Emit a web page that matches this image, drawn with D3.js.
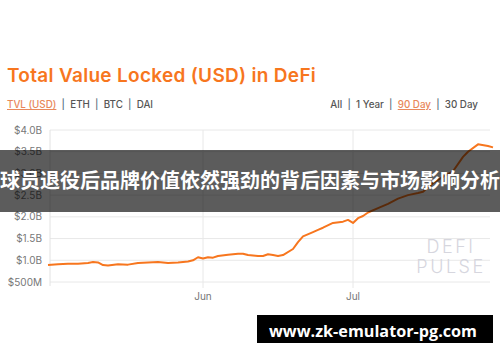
<!DOCTYPE html>
<html><head><meta charset="utf-8">
<script src="https://cdn.jsdelivr.net/npm/d3@7"></script>
<style>body{margin:0;background:#fff}svg{display:block}</style>
</head><body>
<svg id="c" width="500" height="362"></svg>
<script>
const dates = ["2020-05-01","2020-05-03","2020-05-05","2020-05-07","2020-05-09","2020-05-10","2020-05-11","2020-05-12","2020-05-13","2020-05-15","2020-05-17","2020-05-19","2020-05-21","2020-05-23","2020-05-25","2020-05-27","2020-05-29","2020-05-30","2020-05-31","2020-06-01","2020-06-02","2020-06-03","2020-06-04","2020-06-06","2020-06-08","2020-06-09","2020-06-10","2020-06-12","2020-06-13","2020-06-14","2020-06-15","2020-06-16","2020-06-17","2020-06-19","2020-06-20","2020-06-21","2020-06-23","2020-06-24","2020-06-25","2020-06-27","2020-06-29","2020-06-30","2020-07-01","2020-07-02","2020-07-03","2020-07-04","2020-07-06","2020-07-08","2020-07-10","2020-07-12","2020-07-14","2020-07-15","2020-07-17","2020-07-19","2020-07-21","2020-07-23","2020-07-24","2020-07-26","2020-07-28","2020-07-29"];
const tvl = [0.89,0.91,0.92,0.92,0.94,0.96,0.95,0.89,0.88,0.91,0.90,0.94,0.95,0.96,0.94,0.95,0.97,1.00,1.07,1.04,1.07,1.06,1.10,1.13,1.15,1.15,1.12,1.10,1.10,1.14,1.12,1.10,1.12,1.26,1.42,1.55,1.65,1.70,1.75,1.86,1.89,1.93,1.86,1.97,2.02,2.10,2.20,2.30,2.42,2.50,2.55,2.58,2.78,2.92,3.05,3.38,3.50,3.67,3.63,3.60];
const yTicks = [4.0,3.5,3.0,2.5,2.0,1.5,1.0,0.5];
const yTickLabels = ["$4.0B","$3.5B","$3.0B","$2.5B","$2.0B","$1.5B","$1.0B","$500M"];
const xTicks = ["2020-06-01","2020-07-01"];
const xTickLabels = ["Jun","Jul"];
const title = "Total Value Locked (USD) in DeFi";
const leftTabs = ["TVL (USD)","ETH","BTC","DAI"];
const rightTabs = ["All","1 Year","90 Day","30 Day"];
const banner = "球员退役后品牌价值依然强劲的背后因素与市场影响分析";
const site = "www.zk-emulator-pg.com";

const parse = d3.timeParse("%Y-%m-%d");
const svg = d3.select("#c");
const orange = "#f7761e";
const font = "Inter, 'Noto Sans', sans-serif";

const x = d3.scaleTime().domain([parse("2020-05-01"), parse("2020-07-29")]).range([48, 493]);
const y = d3.scaleLinear().domain([0.5, 4.0]).range([282, 130]);
const left = 50, right = 490;

// title
svg.append("text").attr("x", 7).attr("y", 81.5).attr("fill", orange)
  .attr("font-family", font).attr("font-weight", 600).attr("font-size", 19).attr("letter-spacing", 0.3).text(title);

// tabs
function tabs(list, active, x0, anchorEnd) {
  const t = svg.append("text").attr("y", 108).attr("font-family", font).attr("font-size", 9.8)
    .attr("font-weight", 500).attr("fill", "#555");
  list.forEach((s, i) => {
    if (i > 0) t.append("tspan").attr("fill", "#5a7080").text("  |  ");
    const sp = t.append("tspan").text(s);
    if (i === active) sp.attr("fill", "#e8875a").attr("text-decoration", "underline");
  });
  t.attr("x", x0).attr("text-anchor", anchorEnd ? "end" : "start");
  t.attr("xml:space", "preserve").style("white-space", "pre");
}
tabs(leftTabs, 0, 7, false);
tabs(rightTabs, 2, 478, true);

// grid
const g = svg.append("g");
g.selectAll("line.h").data(yTicks).join("line")
  .attr("x1", left).attr("x2", right).attr("y1", d => y(d)).attr("y2", d => y(d))
  .attr("stroke", "#e8e8e8").attr("stroke-width", 1);
g.selectAll("line.v").data(xTicks).join("line")
  .attr("x1", d => x(parse(d))).attr("x2", d => x(parse(d)))
  .attr("y1", y(4.0)).attr("y2", 288).attr("stroke", "#e8e8e8");
g.append("line").attr("x1", left).attr("x2", left).attr("y1", y(4.0)).attr("y2", 286).attr("stroke", "#e2e2e2");

// y labels
g.selectAll("text.y").data(yTicks).join("text")
  .attr("x", 42).attr("y", d => y(d) + 3.5).attr("text-anchor", "end")
  .attr("font-family", font).attr("font-size", 10).attr("fill", "#777")
  .text((d, i) => yTickLabels[i]);
// x labels
g.selectAll("text.x").data(xTicks).join("text")
  .attr("x", d => x(parse(d))).attr("y", 300).attr("text-anchor", "middle")
  .attr("font-family", font).attr("font-size", 10).attr("fill", "#777")
  .text((d, i) => xTickLabels[i]);

// watermark
svg.append("text").attr("x", 451).attr("y", 253).attr("text-anchor", "middle")
  .attr("font-family", font).attr("font-weight", 300).attr("font-size", 18)
  .attr("letter-spacing", 2.5).attr("fill", "#d6d6de").text("DEFI");
svg.append("text").attr("x", 451).attr("y", 273).attr("text-anchor", "middle")
  .attr("font-family", font).attr("font-weight", 300).attr("font-size", 18)
  .attr("letter-spacing", 2.5).attr("fill", "#d6d6de").text("PULSE");

// line
const data = dates.map((d, i) => ({ d: parse(d), v: tvl[i] }));
svg.append("path").datum(data)
  .attr("fill", "none").attr("stroke", orange).attr("stroke-width", 2)
  .attr("stroke-linejoin", "round")
  .attr("d", d3.line().x(d => x(d.d)).y(d => y(d.v)));

// banner
svg.append("rect").attr("x", 0).attr("y", 150).attr("width", 500).attr("height", 62)
  .attr("fill", "rgba(0,0,0,0.64)");
svg.append("text").attr("x", 250).attr("y", 188).attr("text-anchor", "middle")
  .attr("font-family", "'Noto Sans CJK SC', sans-serif").attr("font-weight", 700)
  .attr("font-size", 20).attr("fill", "#fff").text(banner);

// site box
svg.append("rect").attr("x", 257).attr("y", 315).attr("width", 236).attr("height", 28).attr("fill", "#000");
svg.append("text").attr("x", 373).attr("y", 336.5).attr("text-anchor", "middle")
  .attr("font-family", "'Open Sans', sans-serif").attr("font-weight", 700)
  .attr("font-size", 16.2).attr("fill", "#fff").text(site);
</script>
</body></html>
